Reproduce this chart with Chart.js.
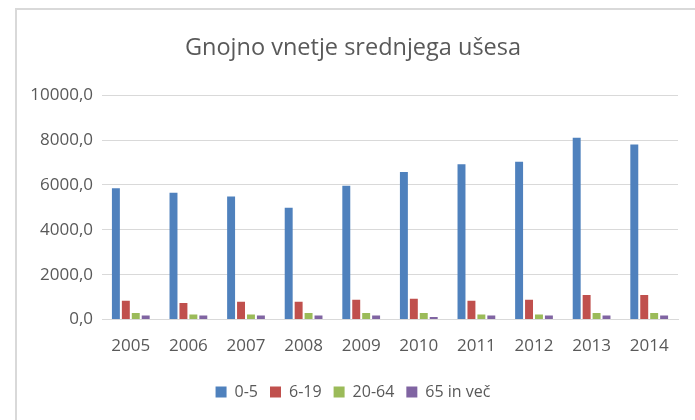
<!DOCTYPE html>
<html>
<head>
<meta charset="utf-8">
<script src="https://cdn.jsdelivr.net/npm/chart.js@4"></script>
<style>
  html, body { margin: 0; padding: 0; background: #fff; }
  #wrap { position: relative; width: 695px; height: 420px; }
  #frame { position: absolute; left: 15px; top: 8px; right: 0; bottom: 0;
           border-top: 2px solid #d9d9d9; border-left: 2px solid #d9d9d9; }
  canvas { position: absolute; left: 0; top: 0; }
</style>
</head>
<body>
<div id="wrap">
  <div id="frame"></div>
  <canvas id="chart" width="695" height="420"></canvas>
</div>
<script>
// data
const years = ['2005', '2006', '2007', '2008', '2009', '2010', '2011', '2012', '2013', '2014'];
const age0to5 = [5850, 5650, 5490, 4980, 5960, 6580, 6920, 7030, 8100, 7800];
const age6to19 = [840, 740, 800, 800, 890, 930, 840, 890, 1100, 1100];
const age20to64 = [290, 230, 230, 290, 290, 290, 230, 230, 290, 290];
const age65plus = [180, 180, 180, 180, 180, 120, 180, 180, 180, 180];

const font = "'Open Sans', sans-serif";
const textColor = '#595959';
const gridColor = '#d9d9d9';

const ctx = document.getElementById('chart');
new Chart(ctx, {
  type: 'bar',
  data: {
    labels: years,
    datasets: [
      { label: '0-5', data: age0to5, backgroundColor: '#4f81bd' },
      { label: '6-19', data: age6to19, backgroundColor: '#c0504d' },
      { label: '20-64', data: age20to64, backgroundColor: '#9bbb59' },
      { label: '65 in več', data: age65plus, backgroundColor: '#8064a2' }
    ]
  },
  options: {
    responsive: false,
    animation: false,
    layout: { padding: { left: 28, right: 17, top: 0, bottom: 10 } },
    datasets: {
      bar: { categoryPercentage: 0.69, barPercentage: 0.8 }
    },
    plugins: {
      title: {
        display: true,
        text: 'Gnojno vnetje srednjega ušesa',
        color: textColor,
        font: { family: font, size: 23.5, weight: 'normal' },
        padding: { top: 34, bottom: 33 }
      },
      legend: {
        position: 'bottom',
        labels: {
          color: textColor,
          font: { family: font, size: 16 },
          boxWidth: 11,
          boxHeight: 11,
          padding: 12
        }
      },
      tooltip: { enabled: false }
    },
    scales: {
      x: {
        grid: { display: false, drawTicks: false },
        border: { color: gridColor },
        ticks: { color: textColor, font: { family: font, size: 17 }, padding: 16 }
      },
      y: {
        min: 0,
        max: 10000,
        afterFit: (scale) => { scale.width = 74; },
        grid: { color: gridColor, drawTicks: false },
        border: { display: false },
        ticks: {
          stepSize: 2000,
          color: textColor,
          font: { family: font, size: 17 },
          padding: 9,
          callback: (v) => v.toFixed(1).replace('.', ',')
        }
      }
    }
  }
});
</script>
</body>
</html>
